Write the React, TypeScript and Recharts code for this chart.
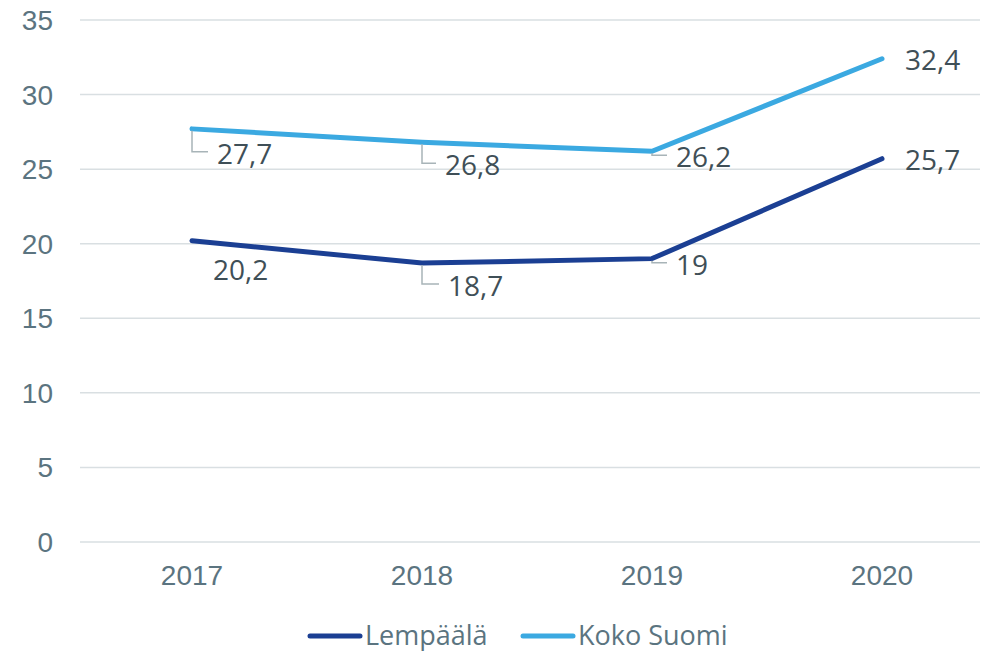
import { CartesianGrid, LabelList, Legend, Line, LineChart, XAxis, YAxis } from 'recharts'

const years = ['2017', '2018', '2019', '2020']
const lempaala = [20.2, 18.7, 19, 25.7]
const kokoSuomi = [27.7, 26.8, 26.2, 32.4]
const yTicks = [0, 5, 10, 15, 20, 25, 30, 35]

const data = years.map((year, i) => ({ year, lempaala: lempaala[i], koko: kokoSuomi[i] }))

const DARK = '#1b3f93'
const LIGHT = '#3ba9e1'
const AXIS_TEXT = '#5b7480'
const LABEL_TEXT = '#3f4f57'
const LEADER = '#a8b4b8'

// label placement per point: text offset from the point, and whether a leader line is drawn
type Place = { dx: number; dy: number; leader: boolean }
const lempPlaces: Place[] = [
  { dx: 21, dy: 39, leader: false },
  { dx: 26, dy: 33, leader: true },
  { dx: 24, dy: 16, leader: true },
  { dx: 23, dy: 11, leader: false },
]
const kokoPlaces: Place[] = [
  { dx: 25, dy: 35, leader: true },
  { dx: 23, dy: 33, leader: true },
  { dx: 24, dy: 16, leader: true },
  { dx: 23, dy: 11, leader: false },
]

const fmt = (v: number) => String(v).replace('.', ',')

function makeLabel(places: Place[]) {
  return (props: any) => {
    const { x, y, value, index } = props
    const p = places[index]
    const tx = x + p.dx
    const ty = y + p.dy
    const ly = ty - 12
    return (
      <g>
        {p.leader && (
          <path
            d={`M${x},${y + 2} L${x},${ly} L${tx - 9},${ly}`}
            fill="none"
            stroke={LEADER}
            strokeWidth={1.5}
          />
        )}
        <text x={tx} y={ty} fill={LABEL_TEXT} fontSize={28} fontFamily="'Open Sans', sans-serif">
          {fmt(value)}
        </text>
      </g>
    )
  }
}

function YTick(props: any) {
  const { y, payload } = props
  return (
    <text x={53} y={y + 10} textAnchor="end" fill={AXIS_TEXT} fontSize={28} fontFamily="'Liberation Sans', Arial, sans-serif">
      {payload.value}
    </text>
  )
}

function XTick(props: any) {
  const { x, payload } = props
  return (
    <text x={x} y={585} textAnchor="middle" fill={AXIS_TEXT} fontSize={28} fontFamily="'Liberation Sans', Arial, sans-serif">
      {payload.value}
    </text>
  )
}

function LegendContent() {
  const items = [
    { name: 'Lempäälä', color: DARK, x: 307 },
    { name: 'Koko Suomi', color: LIGHT, x: 520 },
  ]
  return (
    <svg width={999} height={49} style={{ display: 'block' }}>
      {items.map((it) => (
        <g key={it.name}>
          <line x1={it.x + 3} y1={34} x2={it.x + 53} y2={34} stroke={it.color} strokeWidth={5} strokeLinecap="round" />
          <text x={it.x + 58} y={43} fill={AXIS_TEXT} fontSize={27} fontFamily="'Open Sans', sans-serif">
            {it.name}
          </text>
        </g>
      ))}
    </svg>
  )
}

export default function App() {
  return (
    <div style={{ position: 'absolute', left: 0, top: 0, background: '#fff' }}>
      <LineChart width={999} height={651} data={data} margin={{ top: 20, right: 19, left: 0, bottom: 0 }}>
        <CartesianGrid vertical={false} stroke="#d9dfe2" strokeWidth={1.5} />
        <XAxis
          dataKey="year"
          axisLine={false}
          tickLine={false}
          height={60}
          padding={{ left: 112, right: 98 }}
          tick={<XTick />}
        />
        <YAxis
          domain={[0, 35]}
          ticks={yTicks}
          axisLine={false}
          tickLine={false}
          width={80}
          tick={<YTick />}
        />
        <Legend verticalAlign="bottom" height={49} wrapperStyle={{ left: 0, width: 999, height: 49 }} content={<LegendContent />} />
        <Line
          type="linear"
          dataKey="lempaala"
          name="Lempäälä"
          stroke={DARK}
          strokeWidth={5}
          strokeLinecap="round"
          dot={false}
          isAnimationActive={false}
        >
          <LabelList dataKey="lempaala" content={makeLabel(lempPlaces)} />
        </Line>
        <Line
          type="linear"
          dataKey="koko"
          name="Koko Suomi"
          stroke={LIGHT}
          strokeWidth={5}
          strokeLinecap="round"
          dot={false}
          isAnimationActive={false}
        >
          <LabelList dataKey="koko" content={makeLabel(kokoPlaces)} />
        </Line>
      </LineChart>
    </div>
  )
}
